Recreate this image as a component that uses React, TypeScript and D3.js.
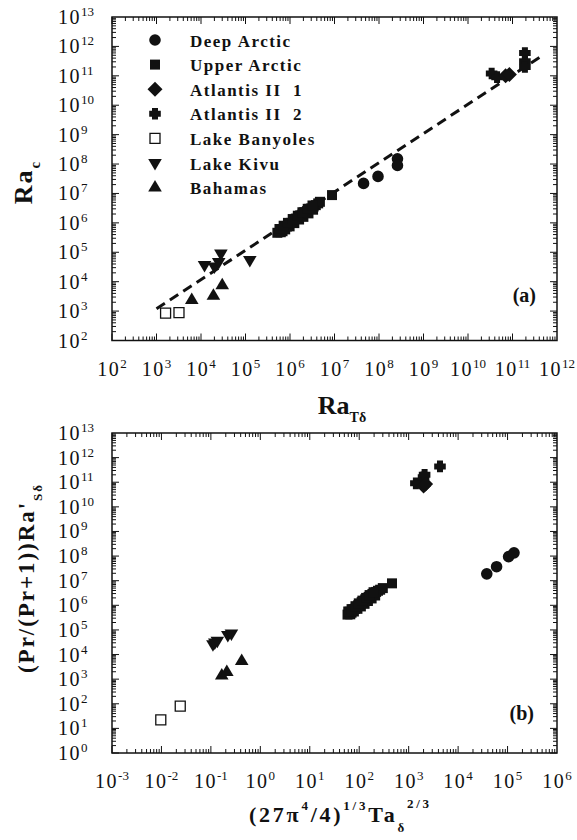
import React from 'react';
import * as d3 from 'd3';

const FONT = '"Liberation Serif", "Times New Roman", serif';

// ---- panel (a): Ra_c vs Ra_Tδ ----
const deepArcticAX = [4.5e7, 9.5e7, 2.6e8, 2.6e8];
const deepArcticAY = [2.2e7, 3.8e7, 1.5e8, 9.0e7];
const upperArcticAX = [5.2e5, 6.0e5, 6.8e5, 7.5e5, 8.5e5, 9.5e5, 1.05e6, 1.2e6, 1.35e6, 1.5e6, 1.7e6, 1.9e6, 2.1e6, 2.4e6, 2.7e6, 3.0e6, 3.4e6, 3.8e6, 4.3e6, 4.7e6, 8.8e6,
  6.2e5, 7.8e5, 9.8e5, 1.25e6, 1.6e6, 2.0e6, 2.6e6, 3.3e6, 5.8e5, 7.2e5, 9.0e5, 1.15e6, 1.5e6, 1.9e6, 2.5e6, 3.2e6];
const upperArcticAY = [4.6e5, 5.8e5, 5.2e5, 7.0e5, 7.5e5, 9.0e5, 1.0e6, 1.15e6, 1.4e6, 1.5e6, 1.8e6, 1.9e6, 2.3e6, 2.5e6, 3.0e6, 3.1e6, 3.6e6, 4.0e6, 4.6e6, 5.2e6, 8.8e6,
  4.8e5, 6.0e5, 7.6e5, 9.8e5, 1.3e6, 1.6e6, 2.1e6, 2.8e6, 6.2e5, 8.0e5, 1.0e6, 1.35e6, 1.75e6, 2.3e6, 3.0e6, 3.9e6];
const atlantis1AX = [7.0e10, 8.5e10];
const atlantis1AY = [1.0e11, 1.1e11];
const atlantis2AX = [3.4e10, 4.5e10, 1.9e11, 1.9e11, 1.9e11];
const atlantis2AY = [1.2e11, 9.0e10, 6.0e11, 3.1e11, 2.0e11];
const banyolesAX = [1.6e3, 3.2e3];
const banyolesAY = [8.5e2, 8.8e2];
const kivuAX = [1.2e4, 2.0e4, 2.8e4, 2.5e4, 1.25e5];
const kivuAY = [3.7e4, 3.3e4, 9.0e4, 4.7e4, 5.5e4];
const bahamasAX = [6.2e3, 1.9e4, 3.0e4];
const bahamasAY = [2.4e3, 3.3e3, 7.5e3];

// dashed fit line
const fitX = [1.0e3, 4.2e11];
const fitY = [1.2e3, 4.4e11];

// ---- panel (b) ----
const deepArcticBX = [3.8e4, 6.0e4, 1.05e5, 1.35e5];
const deepArcticBY = [1.9e7, 3.7e7, 9.5e7, 1.35e8];
const upperArcticBX = [58, 64, 70, 76, 82, 88, 95, 103, 112, 122, 132, 143, 155, 170, 185, 200, 220, 240, 265, 300, 460,
  66, 78, 92, 108, 128, 150, 178, 210, 60, 70, 84, 98, 116, 138, 162, 195];
const upperArcticBY = [4.2e5, 5.5e5, 5.0e5, 6.8e5, 7.2e5, 8.6e5, 1.0e6, 1.1e6, 1.35e6, 1.5e6, 1.75e6, 1.9e6, 2.2e6, 2.5e6, 2.9e6, 3.1e6, 3.5e6, 3.9e6, 4.3e6, 5.0e6, 7.8e6,
  4.3e5, 5.6e5, 7.2e5, 9.0e5, 1.15e6, 1.5e6, 1.9e6, 2.5e6, 5.6e5, 7.0e5, 9.2e5, 1.2e6, 1.55e6, 2.0e6, 2.6e6, 3.4e6];
const atlantis1BX = [2.0e3, 2.2e3];
const atlantis1BY = [7.0e10, 8.5e10];
const atlantis2BX = [1.4e3, 1.9e3, 2.0e3, 2.1e3, 4.3e3];
const atlantis2BY = [9.0e10, 1.0e11, 1.6e11, 2.0e11, 4.4e11];
const banyolesBX = [9.7e-3, 2.4e-2];
const banyolesBY = [22, 80];
const kivuBX = [0.11, 0.12, 0.135, 0.22, 0.26];
const kivuBY = [2.6e4, 3.1e4, 3.6e4, 6.2e4, 7.2e4];
const bahamasBX = [0.166, 0.21, 0.42];
const bahamasBY = [1.4e3, 1.95e3, 5.5e3];

const legendNames = ['Deep Arctic', 'Upper Arctic', 'Atlantis II  1', 'Atlantis II  2', 'Lake Banyoles', 'Lake Kivu', 'Bahamas'];
const legendMarkers = ['circle', 'square', 'diamond', 'cross', 'open', 'down', 'up'];

const PA = { left: 112, right: 557, top: 17, bottom: 340.5 };
const PB = { left: 112, right: 557, top: 433, bottom: 753 };

const markerPath = (kind: string) => {
  switch (kind) {
    case 'circle':
      return d3.symbol(d3.symbolCircle, Math.PI * 5.8 * 5.8)() as string;
    case 'square':
    case 'open':
      return 'M-5,-5H5V5H-5Z';
    case 'diamond':
      return 'M0,-7.5L7.5,0L0,7.5L-7.5,0Z';
    case 'cross': {
      const a = 5.8, b = 3;
      return `M${-b},${-a}H${b}V${-b}H${a}V${b}H${b}V${a}H${-b}V${b}H${-a}V${-b}H${-b}Z`;
    }
    case 'up':
      return 'M0,-7.5L6.8,4L-6.8,4Z';
    case 'down':
      return 'M0,7.5L6.8,-4L-6.8,-4Z';
  }
  return '';
};

const Marker = ({ kind, x, y }: { kind: string; x: number; y: number }) => (
  <path
    d={markerPath(kind)}
    transform={`translate(${x},${y})`}
    fill={kind === 'open' ? '#fff' : '#111'}
    stroke={kind === 'open' ? '#111' : 'none'}
    strokeWidth={1.3}
  />
);

const Pow = ({ x, y, exp, anchor }: { x: number; y: number; exp: number; anchor: string }) => (
  <text x={x} y={y} textAnchor={anchor} fontFamily={FONT} fontSize={20} fill="#111" letterSpacing={1.5}>
    <tspan>10</tspan>
    <tspan fontSize={13} dy={-8} letterSpacing={0}>{exp}</tspan>
  </text>
);

const Frame = ({ P, xs, ys, xExp, yExp }: any) => {
  const ticks: any[] = [];
  const major = 7, minor = 4;
  for (let e = xExp[0]; e < xExp[1]; e++) {
    for (let m = 1; m < 10; m++) {
      const px = xs(m * Math.pow(10, e));
      const len = m === 1 ? major : minor;
      ticks.push(<line key={`xb${e}${m}`} x1={px} x2={px} y1={P.bottom} y2={P.bottom - len} />);
      ticks.push(<line key={`xt${e}${m}`} x1={px} x2={px} y1={P.top} y2={P.top + len} />);
    }
  }
  for (let e = yExp[0]; e < yExp[1]; e++) {
    for (let m = 1; m < 10; m++) {
      const py = ys(m * Math.pow(10, e));
      const len = m === 1 ? major : minor;
      ticks.push(<line key={`yl${e}${m}`} y1={py} y2={py} x1={P.left} x2={P.left + len} />);
      ticks.push(<line key={`yr${e}${m}`} y1={py} y2={py} x1={P.right} x2={P.right - len} />);
    }
  }
  const xl = d3.range(xExp[0], xExp[1] + 1).map(e => (
    <Pow key={`xl${e}`} x={xs(Math.pow(10, e))} y={P.bottom + 35} exp={e} anchor="middle" />
  ));
  const yl = d3.range(yExp[0], yExp[1] + 1).map(e => (
    <Pow key={`yl${e}`} x={58} y={ys(Math.pow(10, e)) + 7} exp={e} anchor="start" />
  ));
  return (
    <g>
      <g stroke="#111" strokeWidth={1}>{ticks}</g>
      <rect x={P.left} y={P.top} width={P.right - P.left} height={P.bottom - P.top} fill="none" stroke="#111" strokeWidth={1.5} />
      {xl}
      {yl}
    </g>
  );
};

const points = (kind: string, xsArr: number[], ysArr: number[], xs: any, ys: any, key: string) =>
  xsArr.map((v, i) => <Marker key={`${key}${i}`} kind={kind} x={xs(v)} y={ys(ysArr[i])} />);

export default function App() {
  const xa = d3.scaleLog().domain([1e2, 1e12]).range([PA.left, PA.right]);
  const ya = d3.scaleLog().domain([1e2, 1e13]).range([PA.bottom, PA.top]);
  const xb = d3.scaleLog().domain([1e-3, 1e6]).range([PB.left, PB.right]);
  const yb = d3.scaleLog().domain([1, 1e13]).range([PB.bottom, PB.top]);

  const fit = d3.line<number>().x(d => xa(d)).y((d, i) => ya(fitY[i]))(fitX) as string;

  return (
    <svg width={577} height={840} style={{ position: 'absolute', left: 0, top: 0, background: '#fff' }}>
      {/* panel (a) */}
      <Frame P={PA} xs={xa} ys={ya} xExp={[2, 12]} yExp={[2, 13]} />
      <path d={fit} fill="none" stroke="#111" strokeWidth={3} strokeDasharray="10,6" />
      {points('circle', deepArcticAX, deepArcticAY, xa, ya, 'da')}
      {points('square', upperArcticAX, upperArcticAY, xa, ya, 'ua')}
      {points('cross', atlantis2AX, atlantis2AY, xa, ya, 'a2')}
      {points('diamond', atlantis1AX, atlantis1AY, xa, ya, 'a1')}
      {points('open', banyolesAX, banyolesAY, xa, ya, 'bn')}
      {points('down', kivuAX, kivuAY, xa, ya, 'kv')}
      {points('up', bahamasAX, bahamasAY, xa, ya, 'bh')}

      {legendNames.map((n, i) => (
        <g key={n}>
          <Marker kind={legendMarkers[i]} x={155} y={40 + i * 24.6} />
          <text x={190} y={46.5 + i * 24.6} fontFamily={FONT} fontWeight="bold" fontSize={17} letterSpacing={1.5} fill="#111" style={{ whiteSpace: 'pre' }}>{n}</text>
        </g>
      ))}
      <text x={536} y={302} textAnchor="end" fontFamily={FONT} fontWeight="bold" fontSize={20} fill="#111">(a)</text>

      <text x={342} y={414} textAnchor="middle" fontFamily={FONT} fontWeight="bold" fontSize={26} fill="#111">
        <tspan>Ra</tspan>
        <tspan fontSize={14} dy={8}>Tδ</tspan>
      </text>
      <text transform="translate(32,182) rotate(-90)" textAnchor="middle" fontFamily={FONT} fontWeight="bold" fontSize={26} letterSpacing={2} fill="#111">
        <tspan>Ra</tspan>
        <tspan fontSize={15} dy={8}>c</tspan>
      </text>

      {/* panel (b) */}
      <Frame P={PB} xs={xb} ys={yb} xExp={[-3, 6]} yExp={[0, 13]} />
      {points('circle', deepArcticBX, deepArcticBY, xb, yb, 'db')}
      {points('square', upperArcticBX, upperArcticBY, xb, yb, 'ub')}
      {points('cross', atlantis2BX, atlantis2BY, xb, yb, 'b2')}
      {points('diamond', atlantis1BX, atlantis1BY, xb, yb, 'b1')}
      {points('open', banyolesBX, banyolesBY, xb, yb, 'bnb')}
      {points('down', kivuBX, kivuBY, xb, yb, 'kvb')}
      {points('up', bahamasBX, bahamasBY, xb, yb, 'bhb')}
      <text x={534} y={720} textAnchor="end" fontFamily={FONT} fontWeight="bold" fontSize={20} fill="#111">(b)</text>

      <text x={339} y={822} textAnchor="middle" fontFamily={FONT} fontWeight="bold" fontSize={22} textLength={180} fill="#111">
        <tspan>(27π</tspan>
        <tspan fontSize={13} dy={-12}>4</tspan>
        <tspan dy={12}>/4)</tspan>
        <tspan fontSize={13} dy={-12}>1/3</tspan>
        <tspan dy={12}>Ta</tspan>
        <tspan fontSize={13} dy={10}>δ</tspan>
        <tspan fontSize={13} dy={-24}>2/3</tspan>
      </text>
      <text transform="translate(34,579) rotate(-90)" textAnchor="middle" fontFamily={FONT} fontWeight="bold" fontSize={23} textLength={188} fill="#111">
        <tspan>(Pr/(Pr+1))Ra'</tspan>
        <tspan fontSize={13} dy={8}>Sδ</tspan>
      </text>
    </svg>
  );
}
